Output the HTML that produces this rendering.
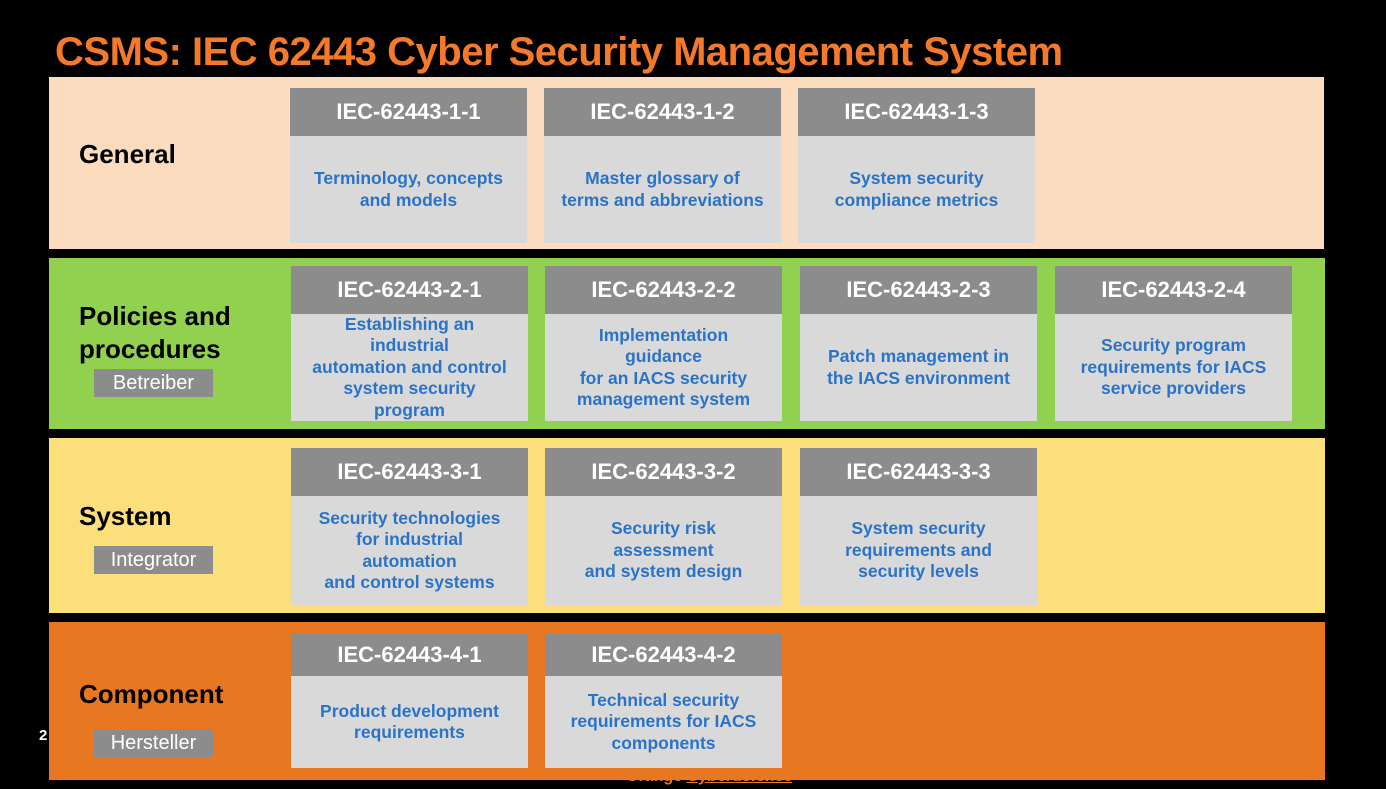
<!DOCTYPE html>
<html><head><meta charset="utf-8"><style>
body{margin:0;width:1386px;height:789px;background:#000;position:relative;overflow:hidden;font-family:"Liberation Sans",Arial,sans-serif}
.a{position:absolute}
.title{left:55px;top:30px;font-size:40px;font-weight:bold;color:#F5792A;white-space:nowrap;letter-spacing:-0.5px}
.band{position:absolute;left:49px;width:1275px}
.lab{position:absolute;left:79px;font-size:26px;font-weight:bold;color:#000;line-height:33px}
.tag{position:absolute;left:94px;width:119px;height:28px;background:#8C8C8C;color:#fff;font-size:20px;text-align:center;line-height:28px}
.box{position:absolute;width:237px;background:#D9D9D9}
.box .h{background:#8C8C8C;color:#fff;font-weight:bold;font-size:22px;text-align:center;display:flex;align-items:center;justify-content:center}
.box .b{color:#2B73C6;font-weight:bold;font-size:17.5px;text-align:center;display:flex;align-items:center;justify-content:center;line-height:21.5px}
</style></head><body>
<div class="a title">CSMS: IEC 62443 Cyber Security Management System</div>
<div class="a" style="left:626px;top:768px;font-size:16px;font-weight:bold;color:#E87722">Orange <u>Cyberdefence</u></div>

<div class="band" style="top:77px;height:172px;background:#FBDCBF"></div>
<div class="band" style="top:258px;height:171px;background:#92D050;width:1276px"></div>
<div class="band" style="top:438px;height:175px;background:#FADF7A;width:1276px"></div>
<div class="band" style="top:622px;height:158px;background:#E87722;width:1276px"></div>
<div class="a" style="left:39px;top:727px;color:#fff;font-weight:bold;font-size:15px">2</div>

<div class="lab" style="top:138px">General</div>
<div class="lab" style="top:300px">Policies and<br>procedures</div>
<div class="tag" style="top:369px">Betreiber</div>
<div class="lab" style="top:500px">System</div>
<div class="tag" style="top:546px">Integrator</div>
<div class="lab" style="top:678px">Component</div>
<div class="tag" style="top:729px">Hersteller</div>

<div class="box" style="left:290px;top:88px"><div class="h" style="height:48px">IEC-62443-1-1</div><div class="b" style="height:107px">Terminology, concepts<br>and models</div></div>
<div class="box" style="left:544px;top:88px"><div class="h" style="height:48px">IEC-62443-1-2</div><div class="b" style="height:107px">Master glossary of<br>terms and abbreviations</div></div>
<div class="box" style="left:798px;top:88px"><div class="h" style="height:48px">IEC-62443-1-3</div><div class="b" style="height:107px">System security<br>compliance metrics</div></div>

<div class="box" style="left:291px;top:266px"><div class="h" style="height:48px">IEC-62443-2-1</div><div class="b" style="height:107px">Establishing an<br>industrial<br>automation and control<br>system security<br>program</div></div>
<div class="box" style="left:545px;top:266px"><div class="h" style="height:48px">IEC-62443-2-2</div><div class="b" style="height:107px">Implementation<br>guidance<br>for an IACS security<br>management system</div></div>
<div class="box" style="left:800px;top:266px"><div class="h" style="height:48px">IEC-62443-2-3</div><div class="b" style="height:107px">Patch management in<br>the IACS environment</div></div>
<div class="box" style="left:1055px;top:266px"><div class="h" style="height:48px">IEC-62443-2-4</div><div class="b" style="height:107px">Security program<br>requirements for IACS<br>service providers</div></div>

<div class="box" style="left:291px;top:448px"><div class="h" style="height:48px">IEC-62443-3-1</div><div class="b" style="height:109px">Security technologies<br>for industrial<br>automation<br>and control systems</div></div>
<div class="box" style="left:545px;top:448px"><div class="h" style="height:48px">IEC-62443-3-2</div><div class="b" style="height:109px">Security risk<br>assessment<br>and system design</div></div>
<div class="box" style="left:800px;top:448px"><div class="h" style="height:48px">IEC-62443-3-3</div><div class="b" style="height:109px">System security<br>requirements and<br>security levels</div></div>

<div class="box" style="left:291px;top:634px"><div class="h" style="height:42px">IEC-62443-4-1</div><div class="b" style="height:92px">Product development<br>requirements</div></div>
<div class="box" style="left:545px;top:634px"><div class="h" style="height:42px">IEC-62443-4-2</div><div class="b" style="height:92px">Technical security<br>requirements for IACS<br>components</div></div>
</body></html>
